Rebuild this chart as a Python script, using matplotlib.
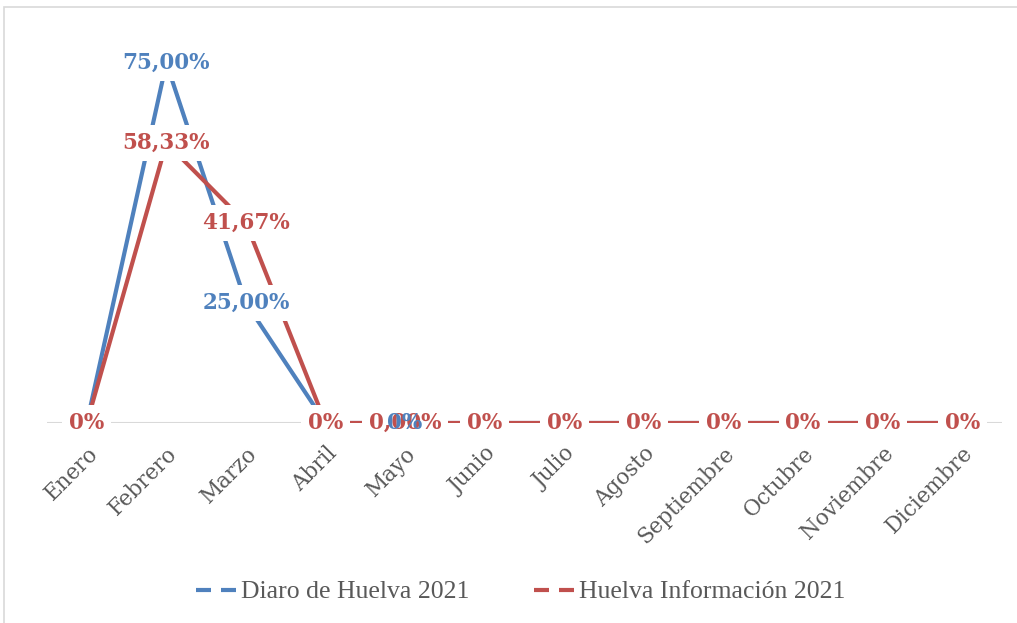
import matplotlib.pyplot as plt
from matplotlib.patches import Rectangle

meses = ["Enero", "Febrero", "Marzo", "Abril", "Mayo", "Junio", "Julio",
         "Agosto", "Septiembre", "Octubre", "Noviembre", "Diciembre"]
diario = [0, 0.75, 0.25, 0, 0, 0, 0, 0, 0, 0, 0, 0]
huelva_info = [0, 0.5833, 0.4167, 0, 0, 0, 0, 0, 0, 0, 0, 0]
etiq_diario = ["0%", "75,00%", "25,00%", "0%", "0%", "0%", "0%", "0%", "0%", "0%", "0%", "0%"]
etiq_info = ["0%", "58,33%", "41,67%", "0%", "0,00%", "0%", "0%", "0%", "0%", "0%", "0%", "0%"]

azul = "#4F81BD"
rojo = "#C0504D"
gris = "#595959"
serif_ancha = ["DejaVu Serif"]
serif_estrecha = ["Liberation Serif", "DejaVu Serif"]

fig = plt.figure(figsize=(10.17, 6.23), dpi=100)
fig.patches.append(Rectangle((4 / 1017, -0.1), 1.2, (623 - 7) / 623 + 0.1,
                             transform=fig.transFigure, fill=False,
                             edgecolor="#D9D9D9", lw=1.2))
ax = fig.add_axes([47 / 1017, (623 - 423) / 623, 955 / 1017, 384 / 623])
x = list(range(len(meses)))

ax.axhline(0, color="#D9D9D9", lw=1.5, zorder=1)
l1, = ax.plot(x, diario, color=azul, lw=3, zorder=2)
l2, = ax.plot(x, huelva_info, color=rojo, lw=3, zorder=3)

caja = dict(facecolor="white", edgecolor="none", pad=5)
for i, (v, t) in enumerate(zip(diario, etiq_diario)):
    if i == 4:
        continue
    ax.text(i, v, t, color=azul, ha="center", va="center", fontsize=15.5,
            fontweight="bold", family=serif_ancha, bbox=caja, zorder=4)
for i, (v, t) in enumerate(zip(huelva_info, etiq_info)):
    ax.text(i, v, t, color=rojo, ha="center", va="center", fontsize=15.5,
            fontweight="bold", family=serif_ancha, bbox=caja, zorder=5)
# etiqueta de mayo del Diario, solapada encima de la roja
ax.text(4, diario[4], etiq_diario[4], color=azul, ha="center", va="center",
        fontsize=15.5, fontweight="bold", family=serif_ancha, zorder=6)

ax.set_xlim(-0.5, 11.5)
ax.set_ylim(0, 0.8)
ax.set_xticks(x)
ax.set_xticklabels(meses, rotation=45, ha="right", rotation_mode="anchor",
                   fontsize=15.5, color=gris, family=serif_ancha)
ax.tick_params(axis="x", length=0, pad=14)
ax.set_yticks([])
for s in ax.spines.values():
    s.set_visible(False)

fig.legend([l1, l2], ["Diaro de Huelva 2021", "Huelva Información 2021"],
           loc="center", bbox_to_anchor=(0.512, 1 - 592 / 623), ncol=2,
           frameon=False, handlelength=1.65, handletextpad=0.1, columnspacing=2.5,
           prop={"family": serif_estrecha, "size": 18.5},
           labelcolor=gris)
for h in fig.legends[0].legend_handles:
    h.set_linestyle((0, (3.6, 2.4)))

fig.savefig("out.png", dpi=100)
